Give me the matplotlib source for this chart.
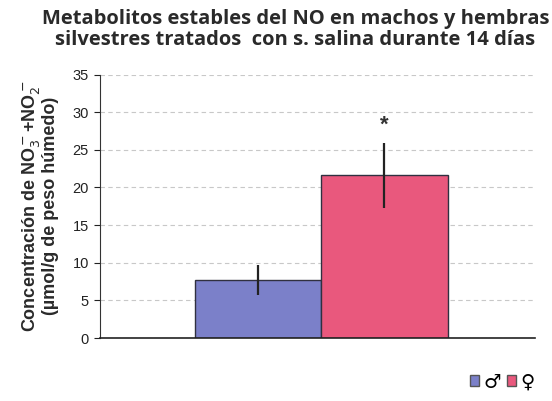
import numpy as np
import matplotlib.pyplot as plt
from matplotlib.patches import Patch

# NO metabolites (nitrate + nitrite), 14 days saline
groups = ['♂', '♀']
means = [7.7, 21.6]
errors = [2.0, 4.3]
colors = ['#7b80c9', '#e9587d']
yticks = [0, 5, 10, 15, 20, 25, 30, 35]

fig = plt.figure(figsize=(5.52, 4.01), dpi=100)
ax = fig.add_axes([0.181, 0.157, 0.788, 0.657])

x = np.array([-0.5, 0.5])
bars = ax.bar(x, means, width=1.0, color=colors, edgecolor='#303040', linewidth=1.0, zorder=2)
ax.errorbar(x, means, yerr=errors, fmt='none', ecolor='#222222', elinewidth=1.6, capsize=0, zorder=3)
ax.text(x[1], means[1] + errors[1] + 1.0, '*', ha='center', va='bottom', fontsize=16,
        fontweight='bold', color='#333333', family='Liberation Sans')

ax.set_xlim(-1.75, 1.69)
ax.set_ylim(0, 35)
ax.set_yticks(yticks)
ax.set_xticks([])
ax.yaxis.grid(True, linestyle=(0, (4, 3)), color='#c8c8c8', linewidth=0.8, zorder=0)
for s in ['top', 'right']:
    ax.spines[s].set_visible(False)
ax.spines['left'].set_color('#333333')
ax.spines['bottom'].set_color('#222222')
ax.spines['bottom'].set_linewidth(1.2)
ax.tick_params(axis='y', labelsize=10.5, colors='#222222', length=4, pad=4)
for lab in ax.get_yticklabels():
    lab.set_family('Liberation Sans')

ax.set_ylabel('Concentración de NO$_3^-$+NO$_2^-$\n(µmol/g de peso húmedo)',
              fontsize=13, fontweight='bold', color='#2a2a2a', family='Liberation Sans',
              labelpad=10, linespacing=1.0)

fig.suptitle('Metabolitos estables del NO en machos y hembras\nsilvestres tratados  con s. salina durante 14 días',
             x=0.535, y=0.978, fontsize=14.5, fontweight='bold', color='#2a2a2a',
             family='Open Sans', linespacing=1.1)

handles = [Patch(facecolor=c, edgecolor='#555555') for c in colors]
fig.legend(handles, groups, loc='lower right', bbox_to_anchor=(1.0, -0.02), ncol=2, frameon=False,
           handlelength=0.5, handleheight=0.5, handletextpad=0.2, columnspacing=0.3,
           prop={'family': 'DejaVu Sans', 'size': 14})

fig.savefig('out.png', dpi=100)
